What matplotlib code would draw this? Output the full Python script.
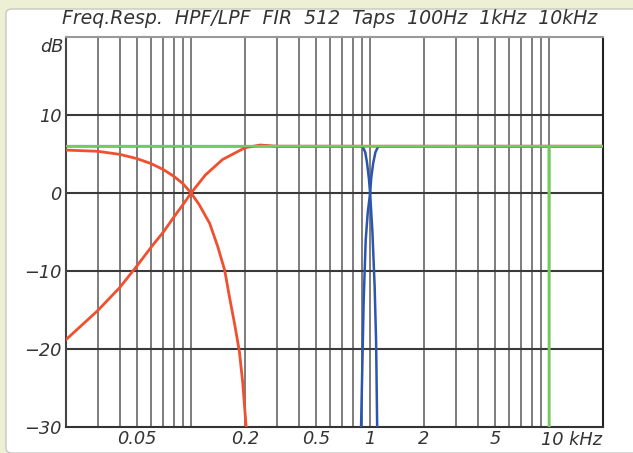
"""Freq. response of HPF/LPF FIR filters (512 taps) at 100 Hz, 1 kHz, 10 kHz."""

import matplotlib
matplotlib.use("Agg")
import matplotlib.pyplot as plt
from matplotlib.patches import FancyBboxPatch
from matplotlib.transforms import blended_transform_factory

# ---------------------------------------------------------------------------
# data (kHz, dB)
# ---------------------------------------------------------------------------
lpf100_f = [0.02, 0.03, 0.04, 0.05, 0.06, 0.07, 0.08, 0.09, 0.1, 0.111,
            0.127, 0.141, 0.154, 0.164, 0.175, 0.186, 0.194, 0.203, 0.206]
lpf100_db = [5.5, 5.35, 4.95, 4.4, 3.75, 3.0, 2.15, 1.2, 0.0, -1.5,
             -3.9, -6.9, -9.9, -13.4, -16.8, -20.3, -24.2, -30.0, -40.0]

hpf100_f = [0.02, 0.03, 0.04, 0.05, 0.06, 0.07, 0.08, 0.09, 0.1, 0.12,
            0.15, 0.2, 0.243, 0.3, 20.0]
hpf100_db = [-18.8, -15.1, -12.1, -9.3, -6.9, -5.0, -3.1, -1.5, 0.0, 2.3,
             4.3, 5.8, 6.15, 6.0, 6.0]

lpf1k_f = [0.02, 0.88, 0.902, 0.915, 0.94, 0.962, 0.985, 1.0, 1.03, 1.06,
           1.08, 1.095, 1.1]
lpf1k_db = [6.0, 6.0, 6.0, 5.8, 5.2, 3.8, 1.8, 0.0, -5.0, -12.0,
            -19.0, -30.0, -40.0]

hpf1k_f = [0.885, 0.89, 0.905, 0.92, 0.945, 0.97, 1.0, 1.015, 1.04, 1.07,
           1.1, 1.125, 20.0]
hpf1k_db = [-40.0, -30.0, -22.0, -14.0, -6.0, -2.5, 0.0, 2.0, 3.8, 5.2,
            5.8, 6.0, 6.0]

lpf10k_f = [0.02, 9.95, 10.0]
lpf10k_db = [6.0, 6.0, -40.0]
hpf10k_f = [10.0, 10.05, 20.0]
hpf10k_db = [-40.0, 6.0, 6.0]

x_ticks = [0.05, 0.2, 0.5, 1, 2, 5]
x_ticklabels = ["0.05", "0.2", "0.5", "1", "2", "5"]
y_ticks = [-30, -20, -10, 0, 10]
y_ticklabels = ["\u221230", "\u221220", "\u221210", "0", "10"]

v_grid = [m * 10.0 ** e for e in (-2, -1, 0) for m in range(1, 10)] + [10.0]
v_grid = [v for v in v_grid if v > 0.025]
h_grid = [-20, -10, 0, 10]

TITLE = "Freq.Resp.  HPF/LPF  FIR  512  Taps  100Hz  1kHz  10kHz"

COLOR_RED = "#f0502e"
COLOR_BLUE = "#2a56b0"
COLOR_GREEN = "#72cc5c"
COLOR_TEXT = "#333333"
FS = 12.8

# ---------------------------------------------------------------------------
# figure
# ---------------------------------------------------------------------------
fig = plt.figure(figsize=(6.33, 4.53), dpi=100, facecolor="#eef0d6")
panel = FancyBboxPatch((6 / 633, 0), 1.0, 1 - 9 / 453,
                       boxstyle="round,pad=0,rounding_size=0.01",
                       transform=fig.transFigure, facecolor="white",
                       edgecolor="#c8c8c0", linewidth=1.0, zorder=-10)
fig.patches.append(panel)

ax = fig.add_axes([66 / 633, 1 - 427 / 453, 537 / 633, 390 / 453])
ax.set_zorder(5)
ax.set_xscale("log")
ax.set_xlim(0.02, 20)
ax.set_ylim(-30, 20)

for v in v_grid:
    ax.axvline(v, color="#666666", linewidth=1.2, zorder=1)
for h in h_grid:
    ax.axhline(h, color="#3a3a3a", linewidth=1.5, zorder=1)

ax.plot(lpf100_f, lpf100_db, color=COLOR_RED, linewidth=2.0, zorder=3)
ax.plot(hpf100_f, hpf100_db, color=COLOR_RED, linewidth=2.0, zorder=3)
ax.plot(lpf1k_f, lpf1k_db, color=COLOR_BLUE, linewidth=1.8, zorder=4)
ax.plot(hpf1k_f, hpf1k_db, color=COLOR_BLUE, linewidth=1.8, zorder=4)
ax.plot(lpf10k_f, lpf10k_db, color=COLOR_GREEN, linewidth=1.8, zorder=5)
ax.plot(hpf10k_f, hpf10k_db, color=COLOR_GREEN, linewidth=1.8, zorder=5)

ax.set_xticks(x_ticks)
ax.set_xticklabels(x_ticklabels)
ax.xaxis.set_minor_locator(matplotlib.ticker.NullLocator())
ax.set_yticks(y_ticks)
ax.set_yticklabels(y_ticklabels)
ax.tick_params(axis="y", length=0, labelsize=FS, colors=COLOR_TEXT, pad=3)
ax.tick_params(axis="x", length=0, labelsize=FS, colors=COLOR_TEXT, pad=2)
for lab in ax.get_xticklabels() + ax.get_yticklabels():
    lab.set_fontstyle("italic")

trans = blended_transform_factory(ax.transData, ax.transAxes)
ax.text(9.0, -0.011, "10 kHz", transform=trans, ha="left", va="top",
        fontsize=FS, style="italic", color=COLOR_TEXT)
ax.text(-0.004, 0.997, "dB", transform=ax.transAxes, ha="right", va="top",
        fontsize=FS, style="italic", color=COLOR_TEXT)

for side, col in (("left", "#444444"), ("bottom", "#333333"),
                  ("top", "#999999"), ("right", "#222222")):
    ax.spines[side].set_color(col)
    ax.spines[side].set_linewidth(1.5)

fig.text(330 / 633, 1 - 18 / 453, TITLE, ha="center", va="center",
         fontsize=13.6, style="italic", color=COLOR_TEXT)

fig.savefig("out.png", dpi=100, facecolor=fig.get_facecolor())
